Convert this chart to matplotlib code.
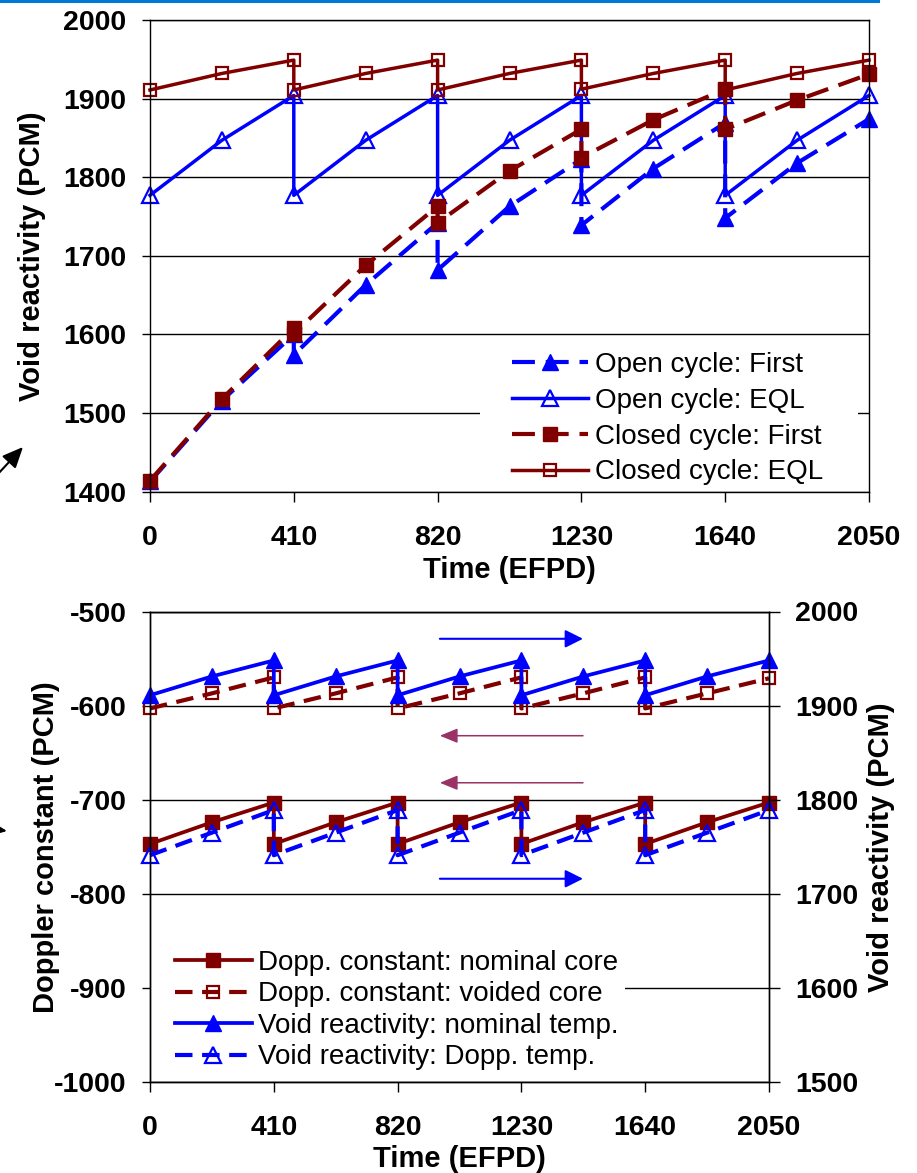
import matplotlib
matplotlib.use("Agg")
import matplotlib.pyplot as plt
from matplotlib.patches import Rectangle
from matplotlib.lines import Line2D

plt.rcParams["font.family"] = ["Liberation Sans", "DejaVu Sans"]

# ---------------------------------------------------------------- data
# Time points (EFPD); reload points appear twice (end of cycle / start of next)
efpd = [0, 205, 410, 410, 615, 820, 820, 1025, 1230, 1230, 1435, 1640, 1640, 1845, 2050]

# Upper panel: void reactivity (PCM)
open_first = [1413, 1516, 1600, 1574, 1663, 1742, 1682, 1763, 1823, 1739, 1811, 1869, 1748, 1818, 1874]
open_eql = [1777, 1847, 1904, 1777, 1847, 1904, 1777, 1847, 1904, 1777, 1847, 1904, 1777, 1847, 1904]
closed_first = [1414, 1518, 1608, 1601, 1688, 1763, 1742, 1808, 1861, 1825, 1873, 1912, 1861, 1898, 1931]
closed_eql = [1911, 1932, 1949, 1911, 1932, 1949, 1911, 1932, 1949, 1912, 1932, 1949, 1911, 1932, 1949]

# Lower panel: Doppler constant (PCM, left axis) and void reactivity (PCM, right axis)
dopp_nominal = [-747, -724, -703, -747, -724, -703, -747, -724, -703, -747, -724, -703, -747, -724, -703]
dopp_voided = [-603, -587, -570, -603, -587, -570, -603, -587, -570, -603, -587, -570, -603, -587, -571]
void_nominal = [1911, 1931, 1948, 1911, 1931, 1948, 1911, 1931, 1948, 1911, 1931, 1948, 1911, 1931, 1948]
void_dopp = [1741, 1765, 1789, 1741, 1765, 1789, 1741, 1765, 1789, 1741, 1765, 1789, 1741, 1765, 1789]

time_ticks = [0, 410, 820, 1230, 1640, 2050]
time_labels = ["0", "410", "820", "1230", "1640", "2050"]
top_ticks = [1400, 1500, 1600, 1700, 1800, 1900, 2000]
top_labels = ["1400", "1500", "1600", "1700", "1800", "1900", "2000"]
dopp_ticks = [-1000, -900, -800, -700, -600, -500]
dopp_labels = ["-1000", "-900", "-800", "-700", "-600", "-500"]
void_ticks = [1500, 1600, 1700, 1800, 1900, 2000]
void_labels = ["1500", "1600", "1700", "1800", "1900", "2000"]

# ---------------------------------------------------------------- style
BLUE = "#0000ff"
RED = "#800000"
PURPLE = "#993366"
TICK_FS = 20.5
LABEL_FS = 21
LEG_FS = 20

W, H = 917, 1173
fig = plt.figure(figsize=(W / 100, H / 100), dpi=100)


def rect_px(left, top, right, bottom):
    return [left / W, 1 - bottom / H, (right - left) / W, (bottom - top) / H]


def style_axes(ax):
    ax.set_axisbelow(True)
    ax.grid(axis="y", color="black", lw=1.0)
    ax.grid(axis="x", visible=False)
    for s in ax.spines.values():
        s.set_linewidth(1.0)
        s.set_color("black")
    ax.tick_params(axis="x", direction="out", length=7.5, width=1.0, pad=16.5)
    ax.tick_params(axis="y", direction="out", length=6, width=1.0, pad=11)
    ax.set_xlim(0, 2050)
    ax.set_xticks(time_ticks, time_labels, fontsize=TICK_FS, fontweight="bold")
    ax.set_xlabel("Time (EFPD)", fontsize=LABEL_FS, fontweight="bold", va="center")


# ---------------------------------------------------------------- upper panel
ax1 = fig.add_axes(rect_px(150, 20, 869, 491.7))
style_axes(ax1)
ax1.set_ylim(1400, 2000)
ax1.set_yticks(top_ticks, top_labels, fontsize=TICK_FS, fontweight="bold")
ax1.set_ylabel("Void reactivity (PCM)", fontsize=LABEL_FS, fontweight="bold", va="center")
ax1.yaxis.set_label_coords(-0.164, 0.5)
ax1.xaxis.set_label_coords(0.5, -0.166)

ax1.plot(efpd, open_first, color=BLUE, lw=3.0, dashes=(5.5, 2.6), marker="^", ms=11,
         mfc=BLUE, mec=BLUE, label="Open cycle: First", clip_on=False)
ax1.plot(efpd, open_eql, color=BLUE, lw=2.5, marker="^", ms=11, mfc="none", mec=BLUE,
         mew=1.6, label="Open cycle: EQL", clip_on=False)
ax1.plot(efpd, closed_first, color=RED, lw=3.0, dashes=(5.5, 2.6), marker="s", ms=10,
         mfc=RED, mec=RED, label="Closed cycle: First", clip_on=False)
ax1.plot(efpd, closed_eql, color=RED, lw=2.5, marker="s", ms=9, mfc="none", mec=RED,
         mew=1.6, label="Closed cycle: EQL", clip_on=False)

ax1.add_patch(Rectangle((0.459, 0.008), 0.526, 0.30, transform=ax1.transAxes,
                        facecolor="white", edgecolor="none", zorder=1.5))
ax1.legend(loc="upper left", bbox_to_anchor=(0.5035, 0.296), frameon=False,
           fontsize=LEG_FS, handlelength=2.73, handletextpad=0.25, labelspacing=0.35,
           borderpad=0, borderaxespad=0, numpoints=1)

# ---------------------------------------------------------------- lower panel
ax2 = fig.add_axes(rect_px(150, 611.5, 769, 1082))
style_axes(ax2)
ax2.set_ylim(-1000, -500)
ax2.set_yticks(dopp_ticks, dopp_labels, fontsize=TICK_FS, fontweight="bold")
ax2.set_ylabel("Doppler constant (PCM)", fontsize=LABEL_FS, fontweight="bold", va="center")
ax2.yaxis.set_label_coords(-0.168, 0.5)
ax2.xaxis.set_label_coords(0.5, -0.1626)

ax2.plot(efpd, dopp_nominal, color=RED, lw=2.7, marker="s", ms=10, mfc=RED, mec=RED,
         label="Dopp. constant: nominal core", clip_on=False)
ax2.plot(efpd, dopp_voided, color=RED, lw=3.0, dashes=(4.2, 2.3), marker="s", ms=9,
         mfc="none", mec=RED, mew=1.6, label="Dopp. constant: voided core", clip_on=False)

ax3 = ax2.twinx()
ax3.set_ylim(1500, 2000)
ax3.set_yticks(void_ticks, void_labels, fontsize=TICK_FS, fontweight="bold")
ax3.tick_params(axis="y", direction="out", length=8, width=1.0, pad=11)
ax3.set_ylabel("Void reactivity (PCM)", fontsize=LABEL_FS, fontweight="bold", va="center")
ax3.yaxis.set_label_coords(1.181, 0.5)
for s in ax3.spines.values():
    s.set_linewidth(1.0)

ax3.plot(efpd, void_nominal, color=BLUE, lw=2.7, marker="^", ms=11, mfc=BLUE, mec=BLUE,
         label="Void reactivity: nominal temp.", clip_on=False)
ax3.plot(efpd, void_dopp, color=BLUE, lw=3.0, dashes=(4.2, 2.3), marker="^", ms=11,
         mfc="none", mec=BLUE, mew=1.6, label="Void reactivity: Dopp. temp.", clip_on=False)

# direction arrows
arrow_blue = dict(arrowstyle="-|>,head_length=0.8,head_width=0.4", mutation_scale=13.5,
                  color=BLUE, lw=1.5, shrinkA=0, shrinkB=0)
arrow_purple = dict(arrowstyle="-|>,head_length=0.8,head_width=0.33", mutation_scale=13.5,
                    color=PURPLE, lw=1.1, shrinkA=0, shrinkB=0)
ax2.annotate("", xy=(1434, -529), xytext=(960, -529), arrowprops=arrow_blue)
ax2.annotate("", xy=(1434, -784), xytext=(960, -784), arrowprops=arrow_blue)
ax2.annotate("", xy=(960, -632), xytext=(1434, -632), arrowprops=arrow_purple)
ax2.annotate("", xy=(960, -682), xytext=(1434, -682), arrowprops=arrow_purple)

ax2.add_patch(Rectangle((0.0, 0.015), 0.767, 0.30, transform=ax2.transAxes,
                        facecolor="white", edgecolor="none", zorder=1.5))
h2, l2 = ax2.get_legend_handles_labels()
h3, l3 = ax3.get_legend_handles_labels()
ax3.legend(h2 + h3, l2 + l3, loc="upper left", bbox_to_anchor=(0.0404, 0.281),
           frameon=False, fontsize=LEG_FS, handlelength=2.77, handletextpad=0.22,
           labelspacing=0.2, borderpad=0, borderaxespad=0, numpoints=1)

# ---------------------------------------------------------------- page decorations
fig.add_artist(Line2D([0, 878 / W], [1 - 1.2 / H, 1 - 1.2 / H], transform=fig.transFigure,
                      color="#0078d7", lw=2.2))
arrow_black = dict(arrowstyle="-|>,head_length=0.9,head_width=0.4", mutation_scale=14,
                   color="black", lw=1.5, shrinkA=0, shrinkB=0)
fig_px = fig.transFigure
ax1.annotate("", xy=(23 / W, 1 - 447 / H), xytext=(-3 / W, 1 - 475 / H),
             xycoords=fig_px, textcoords=fig_px, arrowprops=arrow_black,
             annotation_clip=False)
ax1.annotate("", xy=(7 / W, 1 - 831 / H), xytext=(-30 / W, 1 - 826 / H),
             xycoords=fig_px, textcoords=fig_px, arrowprops=arrow_black,
             annotation_clip=False)

fig.savefig("out.png", dpi=100)
